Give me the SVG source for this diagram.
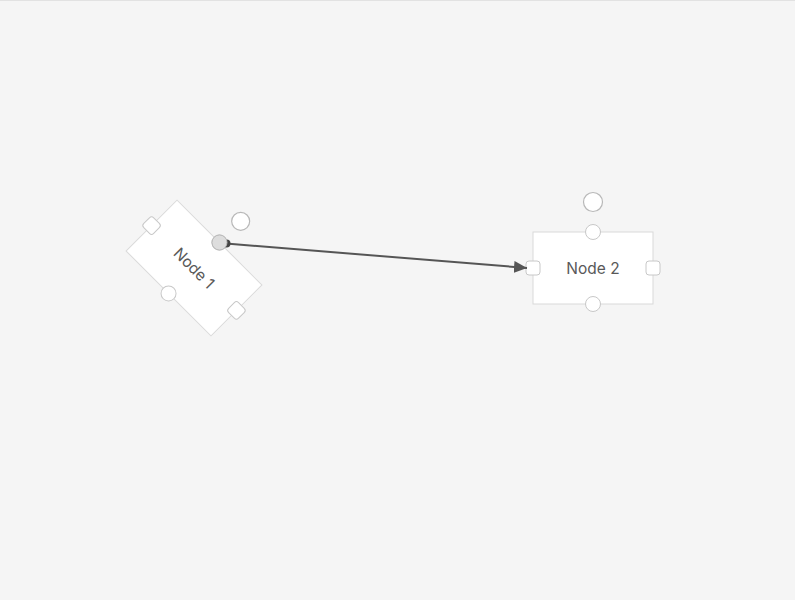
<svg xmlns="http://www.w3.org/2000/svg" width="795" height="600" viewBox="0 0 795 600">
<defs>
<style>
.node{fill:#fff;stroke:#d9d9d9;stroke-width:1}
.port{fill:#fff;stroke:#c8c8c8;stroke-width:1}
.handle{fill:#fff;stroke:#b8b8b8;stroke-width:1.2}
.label{font-family:Inter,"Liberation Sans",sans-serif;font-size:15.5px;fill:#595959;text-anchor:middle;dominant-baseline:central}
.edge{stroke:#555;stroke-width:2;fill:none}
</style>
<marker id="arrow" viewBox="0 0 13 12" refX="13" refY="6" markerWidth="13" markerHeight="12" markerUnits="userSpaceOnUse" orient="auto">
<path d="M0,0 L13,6 L0,12 Z" fill="#555"/>
</marker>
</defs>
<rect x="0" y="0" width="795" height="600" fill="#f5f5f5"/>
<line x1="0" y1="0.5" x2="795" y2="0.5" stroke="#e2e2e2"/>
<g id="node1" transform="translate(194,268) rotate(45)">
<rect class="node" x="-60" y="-36" width="120" height="72"/>
<text class="label" x="0" y="0">Node 1</text>
<rect class="port" x="-67" y="-7" width="14" height="14" rx="3"/>
<rect class="port" x="53" y="-7" width="14" height="14" rx="3"/>
<circle class="port" cx="0" cy="36" r="7.5"/>
<circle cx="0" cy="-36" r="7.5" fill="#ddd" stroke="#bbb"/>
<circle class="handle" cx="0" cy="-66" r="9"/>
</g>
<g id="node2" transform="translate(593,268)">
<rect class="node" x="-60" y="-36" width="120" height="72"/>
<text class="label" x="0" y="0">Node 2</text>
<circle class="port" cx="0" cy="-36" r="7.5"/>
<circle class="port" cx="0" cy="36" r="7.5"/>
<rect class="port" x="-67" y="-7" width="14" height="14" rx="3"/>
<rect class="port" x="53" y="-7" width="14" height="14" rx="3"/>
<circle class="handle" cx="0" cy="-66" r="9.5"/>
</g>
<g id="connectors">
<path class="edge" d="M226,243.5 L527,268" marker-end="url(#arrow)"/>
<circle cx="226.5" cy="243.5" r="4" fill="#444"/>
<circle cx="219.5" cy="242.5" r="7.5" fill="#ddd" stroke="#bbb"/>
</g>
</svg>
